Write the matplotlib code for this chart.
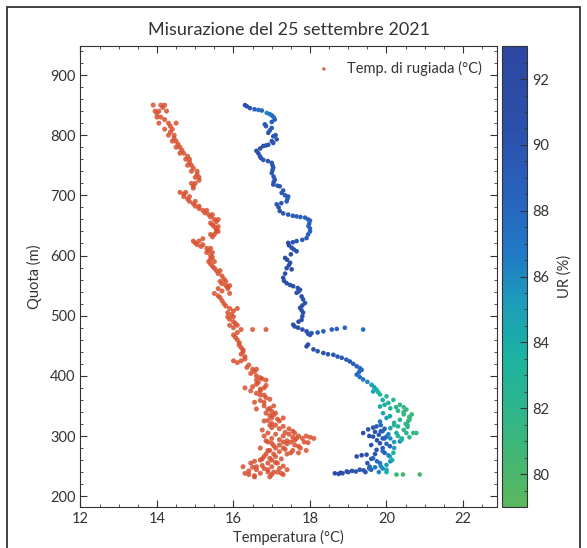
import matplotlib

matplotlib.use("Agg")

import numpy as np
from matplotlib import pyplot as plt
from matplotlib.colors import LinearSegmentedColormap
from matplotlib.patches import Rectangle
from matplotlib.ticker import MultipleLocator

plt.rcParams["font.family"] = ["Lato", "DejaVu Sans"]

# temperatura (°C), quota (m), umidita relativa (%)
temp = [
    16.30, 16.43, 16.74, 16.87, 17.00, 17.08, 16.82, 17.00, 16.91, 17.04,
    17.13, 17.04, 16.91, 16.78, 16.60, 16.69, 16.78, 17.00, 17.04, 17.00,
    17.08, 17.04, 17.21, 17.26, 17.43, 17.39, 17.13, 17.21, 17.43, 17.65,
    17.87, 18.00, 17.96, 18.00, 17.91, 17.65, 17.43, 17.52, 17.65, 17.35,
    17.48, 17.39, 17.52, 17.30, 17.39, 17.56, 17.74, 17.65, 17.78, 17.87,
    17.74, 17.82, 17.78, 17.56, 17.69, 17.91, 18.00, 18.04, 18.35, 18.57,
    18.91, 19.39, 17.91, 18.09, 18.35, 18.61, 18.83, 19.04, 19.22, 19.35,
    19.22, 19.39, 19.61, 19.74, 19.83, 19.65, 20.00, 20.18, 20.35, 20.52,
    20.66, 20.57, 20.35, 20.09, 19.83, 19.91, 19.83, 19.74, 19.52, 19.39,
    19.65, 20.00, 20.26, 20.52, 20.78, 20.35, 20.09, 19.83, 19.74, 19.48,
    19.22, 19.65, 20.09, 20.18, 19.83, 19.56, 19.30, 18.96, 18.65, 20.26,
    20.43, 20.87, 20.45, 20.60, 20.20, 19.95, 20.40, 20.55, 19.90, 20.10,
    16.35, 16.55, 16.65, 16.95, 17.05, 17.00, 16.85, 16.95, 17.10, 17.00,
    16.85, 16.70, 16.65, 16.72, 16.90, 17.02, 17.02, 17.05, 17.05, 17.15,
    17.30, 17.35, 17.41, 17.25, 17.18, 17.30, 17.55, 17.75, 17.95, 17.98,
    18.00, 17.95, 17.80, 17.55, 17.45, 17.58, 17.50, 17.40, 17.45, 17.35,
    17.32, 17.48, 17.68, 17.70, 17.82, 17.80, 17.78, 17.80, 17.70, 17.60,
    17.80, 17.95, 18.20, 18.70, 17.95, 18.20, 18.47, 18.72, 18.95, 19.13,
    19.30, 19.28, 19.30, 19.50, 19.68, 19.78, 19.90, 20.05, 20.25, 20.45,
    20.60, 20.50, 20.20, 20.00, 19.85, 19.95, 19.70, 19.55, 19.80, 20.10,
    20.30, 20.60, 20.45, 20.20, 20.00, 19.90, 19.95, 19.70, 19.35, 19.75,
    20.00, 19.90, 19.60, 19.10, 18.80, 19.45, 19.80, 20.00,
    18.75, 18.85, 19.00, 19.20, 19.40, 19.55, 19.70, 19.85, 20.00, 20.15,
    19.60, 19.75, 19.90, 20.05, 19.85, 19.65, 20.10, 20.30, 20.60, 20.45,
    20.30, 20.10, 19.95, 20.55, 20.70, 20.40, 20.20, 19.90, 20.05, 19.60,
    19.50,
]
quota_t = [
    850, 845, 841, 837, 833, 826, 818, 812, 804, 798,
    793, 787, 784, 782, 774, 765, 759, 754, 746, 737,
    726, 718, 715, 704, 698, 690, 685, 674, 668, 665,
    663, 658, 649, 640, 629, 624, 621, 613, 607, 596,
    588, 579, 577, 563, 554, 549, 543, 538, 532, 521,
    513, 505, 493, 485, 480, 474, 468, 471, 474, 477,
    480, 477, 449, 444, 438, 435, 430, 424, 416, 410,
    402, 394, 385, 377, 369, 374, 366, 360, 352, 344,
    336, 325, 327, 333, 349, 338, 324, 316, 311, 305,
    299, 299, 305, 305, 305, 291, 283, 288, 277, 269,
    266, 263, 266, 272, 255, 249, 244, 241, 238, 236,
    236, 236, 348, 330, 318, 296, 296, 318, 308, 258,
    848, 843, 842, 835, 830, 822, 815, 808, 800, 790,
    783, 778, 770, 762, 757, 750, 742, 731, 722, 716,
    708, 700, 694, 687, 680, 670, 666, 664, 660, 653,
    645, 635, 626, 622, 617, 610, 602, 593, 584, 570,
    558, 551, 546, 540, 527, 517, 509, 499, 490, 482,
    477, 470, 472, 478, 452, 441, 436, 432, 427, 420,
    413, 406, 398, 390, 381, 373, 360, 355, 348, 340,
    332, 320, 322, 330, 318, 312, 307, 300, 302, 296,
    300, 298, 310, 290, 287, 280, 272, 270, 268, 258,
    252, 246, 244, 242, 239, 240, 240, 240,
    237, 238, 240, 241, 243, 246, 248, 250, 244, 260,
    285, 293, 296, 303, 308, 314, 313, 316, 327, 336,
    342, 346, 352, 315, 305, 294, 280, 275, 268, 262,
    255,
]
ur = [
    90.5, 90.0, 88.5, 86.0, 88.0, 89.0, 89.5, 89.0, 90.0, 89.5,
    89.5, 90.0, 90.0, 90.5, 90.5, 90.0, 90.0, 89.5, 89.5, 89.5,
    90.0, 90.0, 89.5, 89.5, 89.0, 89.5, 90.0, 90.0, 89.5, 89.0,
    88.5, 88.5, 88.5, 88.5, 89.0, 90.0, 90.5, 90.5, 90.0, 91.0,
    91.0, 91.0, 90.5, 91.0, 91.0, 90.5, 90.0, 90.5, 90.5, 90.0,
    91.0, 90.5, 91.0, 91.0, 91.0, 90.5, 90.0, 89.5, 89.0, 88.5,
    88.0, 87.5, 90.5, 90.5, 90.0, 90.0, 89.5, 89.5, 88.5, 88.0,
    88.0, 87.0, 85.0, 83.5, 83.0, 84.5, 82.5, 82.0, 81.5, 81.0,
    81.0, 82.0, 83.0, 85.0, 84.0, 84.5, 87.0, 89.0, 90.0, 90.5,
    90.0, 88.0, 84.0, 82.5, 81.5, 86.0, 89.0, 90.0, 90.0, 90.5,
    91.0, 88.0, 84.0, 83.0, 87.0, 89.0, 90.0, 90.5, 91.0, 81.0,
    80.5, 80.0, 81.5, 81.0, 82.5, 88.0, 82.0, 81.5, 89.0, 86.0,
    90.0, 89.0, 87.5, 87.0, 88.0, 89.0, 89.5, 89.5, 89.5, 90.0,
    90.0, 90.5, 90.5, 90.0, 89.5, 89.5, 89.5, 89.5, 90.0, 89.5,
    89.5, 89.0, 89.0, 89.5, 90.0, 89.5, 89.0, 88.5, 88.5, 88.5,
    88.5, 88.5, 89.5, 90.0, 90.5, 90.0, 90.5, 91.0, 91.0, 91.0,
    91.0, 90.5, 90.0, 90.0, 90.0, 90.5, 90.5, 91.0, 91.0, 91.0,
    90.5, 90.0, 89.0, 88.5, 90.5, 90.0, 90.0, 89.5, 89.0, 88.5,
    88.0, 88.0, 87.5, 86.0, 84.5, 83.5, 84.0, 83.0, 82.0, 81.5,
    81.0, 82.0, 83.0, 85.0, 88.0, 89.0, 90.0, 90.5, 89.5, 86.0,
    83.0, 82.0, 81.5, 85.0, 88.0, 89.0, 88.5, 90.0, 91.0, 88.0,
    85.0, 86.0, 89.0, 90.5, 91.0, 90.0, 86.0, 84.0,
    91.0, 91.0, 90.5, 90.0, 89.5, 88.0, 87.0, 86.0, 84.0, 84.0,
    90.0, 90.0, 89.0, 86.0, 89.0, 90.0, 85.0, 82.5, 81.0, 81.5,
    82.0, 83.0, 84.0, 81.5, 81.0, 83.0, 85.0, 88.0, 86.0, 89.0,
    89.5,
]

# temperatura di rugiada (°C), quota (m)
rugiada = [
    13.90, 14.10, 14.20, 13.95, 14.05, 14.25, 14.00, 14.10, 14.05, 14.30,
    14.50, 14.20, 14.40, 14.30, 14.45, 14.40, 14.50, 14.50, 14.60, 14.60,
    14.70, 14.75, 14.85, 14.80, 14.90, 14.90, 15.05, 15.00, 15.10, 14.90,
    15.00, 14.95, 14.60, 14.75, 14.70, 14.85, 14.85, 15.00, 15.00, 15.10,
    15.20, 15.30, 15.35, 15.45, 15.50, 15.60, 15.40, 15.50, 15.60, 15.55,
    15.60, 15.40, 15.50, 15.20, 14.95, 15.10, 15.05, 15.20, 15.30, 15.40,
    15.30, 15.45, 15.45, 15.35, 15.50, 15.45, 15.55, 15.65, 15.70, 15.65,
    15.80, 15.80, 15.90, 15.60, 15.85, 15.50, 15.90, 15.65, 15.75, 15.90,
    16.10, 15.85, 15.85, 16.00, 16.00, 15.90, 16.10, 16.20, 16.50, 16.85,
    16.00, 16.10, 16.15, 16.20, 16.25, 16.30, 16.20, 16.00, 16.40, 16.60,
    16.50, 16.45, 16.70, 16.85, 16.60, 16.60, 16.30, 16.80, 16.45, 16.70,
    16.70, 16.80, 16.95, 16.55, 16.80, 16.80, 17.05, 16.90, 16.85, 17.10,
    17.00, 17.30, 16.80, 17.20, 16.95, 17.10, 17.20, 17.45, 16.90, 17.60,
    16.80, 17.30, 17.90, 17.00, 18.10, 16.90, 17.50, 17.85, 17.20, 17.60,
    16.70, 17.10, 17.30, 16.90, 17.90, 17.50, 17.70, 16.80, 17.10, 16.70,
    17.00, 16.45, 16.90, 17.15, 16.25, 16.60, 17.00, 16.60, 16.90, 17.40,
    16.90, 17.15, 16.40, 17.30, 17.40, 17.65, 17.35, 16.75, 17.05, 16.55,
    14.15, 14.00, 14.20, 14.35, 14.35, 14.45, 14.55, 14.65, 14.80, 14.85,
    14.95, 15.05, 15.10, 14.95, 14.70, 14.80, 14.95, 15.10, 15.25, 15.40,
    15.55, 15.45, 15.55, 15.45, 15.00, 15.15, 15.35, 15.40, 15.40, 15.40,
    15.50, 15.60, 15.75, 15.70, 15.85, 15.70, 15.60, 15.70, 15.80, 16.00,
    15.95, 15.90, 16.05, 16.00, 16.10, 16.05, 16.15, 16.25, 16.20, 16.30,
    16.10, 16.35, 16.55, 16.60, 16.75, 16.65, 16.50, 16.60, 16.85, 16.70,
    16.95, 17.00, 16.95, 17.15, 17.00, 17.30, 17.55, 17.10, 17.45, 17.70,
    18.00, 17.20, 17.60, 17.95, 17.40, 17.05, 17.70, 16.95, 17.20, 17.40,
    16.95, 16.55, 16.75, 17.30, 16.40, 17.20, 17.00, 16.70,
    17.80, 17.55, 17.30, 17.00, 16.85, 17.35, 17.55, 17.75, 16.85, 17.25,
    17.10, 16.50, 16.80, 17.05, 16.55, 16.95, 17.25, 16.30, 16.75, 17.00,
    16.90, 16.60, 17.05, 16.70, 16.85,
]
quota_d = [
    850, 850, 850, 840, 840, 840, 830, 830, 820, 820,
    820, 810, 810, 800, 800, 790, 790, 780, 780, 770,
    770, 760, 760, 750, 750, 740, 740, 730, 730, 720,
    720, 712, 705, 705, 698, 698, 690, 690, 682, 682,
    675, 675, 668, 668, 660, 660, 654, 648, 648, 640,
    640, 635, 635, 628, 624, 624, 618, 618, 612, 612,
    605, 605, 597, 590, 590, 582, 575, 575, 566, 557,
    557, 550, 550, 545, 545, 537, 537, 530, 520, 512,
    512, 505, 498, 498, 490, 484, 484, 477, 477, 477,
    468, 460, 455, 447, 440, 432, 425, 425, 418, 411,
    411, 404, 397, 393, 393, 386, 380, 380, 375, 375,
    368, 368, 361, 356, 356, 350, 350, 344, 338, 338,
    330, 330, 325, 325, 318, 318, 312, 312, 305, 305,
    300, 300, 300, 296, 296, 290, 290, 290, 285, 285,
    280, 280, 280, 276, 276, 272, 272, 266, 266, 260,
    260, 255, 255, 255, 249, 249, 249, 244, 244, 244,
    240, 240, 236, 236, 292, 296, 306, 262, 270, 232,
    846, 836, 826, 815, 805, 795, 785, 775, 765, 755,
    745, 735, 725, 716, 702, 694, 686, 678, 671, 664,
    656, 651, 644, 631, 621, 615, 608, 600, 594, 586,
    579, 570, 561, 553, 548, 541, 533, 525, 516, 508,
    502, 494, 487, 480, 472, 464, 451, 443, 436, 428,
    422, 414, 407, 400, 395, 389, 382, 371, 364, 359,
    346, 341, 334, 328, 321, 316, 308, 303, 303, 300,
    298, 294, 293, 289, 287, 284, 283, 276, 274, 270,
    263, 258, 251, 250, 242, 246, 236, 238,
    296, 298, 290, 288, 292, 278, 276, 280, 270, 262,
    256, 248, 246, 240, 234, 232, 238, 238, 310, 314,
    326, 345, 335, 378, 384,
]

ur_colors = ["#5ab85c", "#2fb68a", "#1bb3a2", "#1c9bbb", "#2079c6",
             "#2862bd", "#2b50ab", "#2d47a2"]
ur_levels = [0.0, 0.2, 0.33, 0.45, 0.55, 0.68, 0.82, 1.0]
cmap = LinearSegmentedColormap.from_list("ur", list(zip(ur_levels, ur_colors)))

text_color = "#333333"
figure = plt.figure(figsize=(5.87, 5.48), dpi=100)
axes = figure.add_axes([0.1371, 0.0748, 0.709, 0.841])
cax = figure.add_axes([0.8552, 0.0748, 0.0426, 0.841])

axes.scatter(rugiada, quota_d, s=13, color="#d8502f", alpha=0.85,
             edgecolors="none", label="Temp. di rugiada (°C)", zorder=2)
points = axes.scatter(temp, quota_t, c=ur, cmap=cmap, vmin=79, vmax=93,
                      s=11, edgecolors="none", zorder=3)

axes.set_xlim(12, 22.88)
axes.set_ylim(182, 948)
axes.set_title("Misurazione del 25 settembre 2021", fontsize=13,
               color=text_color, pad=8)
axes.set_xlabel("Temperatura (°C)", fontsize=10.5, color=text_color, labelpad=3)
axes.set_ylabel("Quota (m)", fontsize=10.5, color=text_color, labelpad=6)

axes.xaxis.set_major_locator(MultipleLocator(2))
axes.xaxis.set_minor_locator(MultipleLocator(0.5))
axes.yaxis.set_major_locator(MultipleLocator(100))
axes.yaxis.set_minor_locator(MultipleLocator(20))
axes.tick_params(which="both", direction="in", top=True, right=True,
                 colors="#333333", labelsize=10.5, labelcolor=text_color)
axes.tick_params(which="major", length=5, width=0.8)
axes.tick_params(which="minor", length=2.5, width=0.6)
for spine in axes.spines.values():
    spine.set_color("#333333")

legend = axes.legend(loc="upper right", frameon=False, fontsize=10.5,
                     markerscale=0.7, handletextpad=0.6, borderaxespad=0.6)
for text in legend.get_texts():
    text.set_color(text_color)

colorbar = figure.colorbar(points, cax=cax)
colorbar.set_label("UR (%)", fontsize=10.5, color=text_color, labelpad=6)
colorbar.ax.yaxis.set_major_locator(MultipleLocator(2))
colorbar.ax.yaxis.set_minor_locator(MultipleLocator(0.5))
colorbar.ax.tick_params(which="both", direction="in", colors="#333333",
                        labelsize=10.5, labelcolor=text_color)
colorbar.ax.tick_params(which="major", length=5, width=0.8)
colorbar.ax.tick_params(which="minor", length=2.5, width=0.6)
colorbar.outline.set_edgecolor("#333333")

# cornice esterna
figure.patches.append(Rectangle((7 / 587, -0.05), 573 / 587, 1.05 - 7 / 548,
                                transform=figure.transFigure, fill=False,
                                edgecolor="#222222", linewidth=1.2))

figure.savefig("out.png", dpi=100)
plt.close(figure)
